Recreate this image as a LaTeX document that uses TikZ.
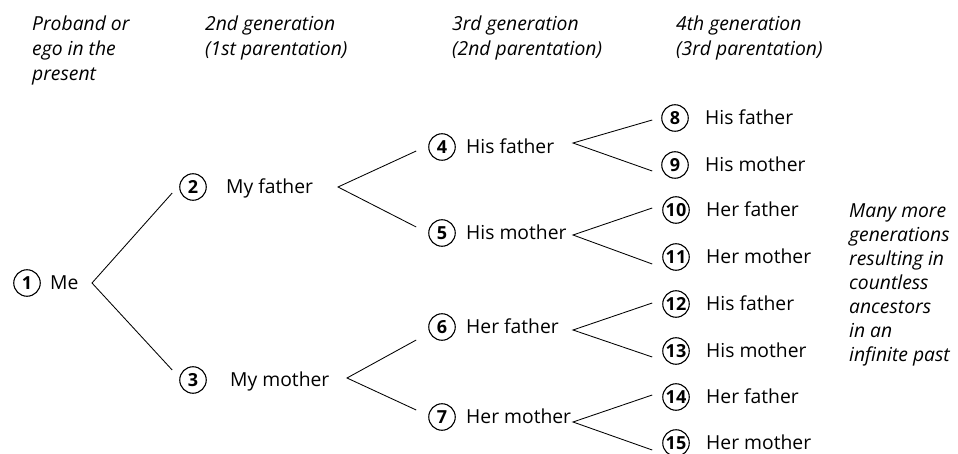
\documentclass[tikz,border=0pt]{standalone}
\usepackage{fontspec}
\setmainfont{Open Sans}
\begin{document}
\begin{tikzpicture}[x=1pt,y=-1pt,
  num/.style={circle,draw,line width=1.1pt,minimum size=26.5pt,inner sep=0pt,
    font=\fontsize{18}{18}\selectfont\bfseries},
  lbl/.style={anchor=base west,inner sep=0pt,font=\fontsize{19.3}{23}\selectfont},
  head/.style={anchor=north west,inner sep=0pt,align=left,
    font=\fontsize{19.3}{25}\selectfont\itshape},
  link/.style={line width=0.85pt}]
\useasboundingbox (0,0) rectangle (958,454);

% column headings
\node[head] (h1) at (32,15.4) {Proband or\\ego in the\\present};
\node[head] (h2) at (205,15.4) {2nd generation\\(1st parentation)};
\node[head] (h3) at (452,15.4) {3rd generation\\(2nd parentation)};
\node[head] (h4) at (676,15.4) {4th generation\\(3rd parentation)};
\node[head,font=\fontsize{19.3}{24}\selectfont\itshape] (more) at (849,203.2)
  {Many more\\generations\\resulting in\\countless\\ancestors\\in an\\infinite past};

% numbered persons
\node[num] (c1) at (27,283) {1};
\node[num] (c2) at (193,187) {2};
\node[num] (c3) at (193,380) {3};
\node[num] (c4) at (442,147) {4};
\node[num] (c5) at (442,233) {5};
\node[num] (c6) at (442,327) {6};
\node[num] (c7) at (442,417) {7};
\node[num] (c8) at (675,118) {8};
\node[num] (c9) at (675,165) {9};
\node[num] (c10) at (676,210) {10};
\node[num] (c11) at (676,257) {11};
\node[num] (c12) at (676,304) {12};
\node[num] (c13) at (676,351) {13};
\node[num] (c14) at (676,397) {14};
\node[num] (c15) at (676,443) {15};

% names
\node[lbl] (t1) at ([xshift=23pt,yshift=-6.9pt]c1.center) {Me};
\node[lbl] (t2) at ([xshift=33pt,yshift=-6.9pt]c2.center) {My father};
\node[lbl] (t3) at ([xshift=37pt,yshift=-6.9pt]c3.center) {My mother};
\foreach \i/\t in {4/His father,5/His mother,6/Her father,7/Her mother}
  \node[lbl] (t\i) at ([xshift=24pt,yshift=-6.9pt]c\i.center) {\t};
\foreach \i/\t in {8/His father,9/His mother,10/Her father,11/Her mother,
                   12/His father,13/His mother,14/Her father,15/Her mother}
  \node[lbl] (t\i) at ([xshift=30pt,yshift=-6.9pt]c\i.center) {\t};

% branching points
\coordinate (b1) at (92,283);
\coordinate (b2) at (338,187);
\coordinate (b3) at (347,378);
\coordinate (b4) at (573,143);
\coordinate (b5) at (573,235);
\coordinate (b6) at (573,330);
\coordinate (b7) at (573,422);

% connectors
\draw[link] ([xshift=-7pt,yshift=-6pt]c2.west) -- (b1) -- ([xshift=-7pt,yshift=10pt]c3.west);
\draw[link] ([xshift=-12pt,yshift=-4pt]c4.west) -- (b2) -- ([xshift=-12pt,yshift=6pt]c5.west);
\draw[link] ([xshift=-12pt,yshift=-13pt]c6.west) -- (b3) -- ([xshift=-12pt,yshift=7pt]c7.west);
\draw[link] ([xshift=-9pt,yshift=-2pt]c8.west) -- (b4) -- ([xshift=-9pt,yshift=-6pt]c9.west);
\draw[link] ([xshift=-10pt,yshift=2pt]c10.west) -- (b5) -- ([xshift=-10pt,yshift=-7pt]c11.west);
\draw[link] ([xshift=-10pt,yshift=1pt]c12.west) -- (b6) -- ([xshift=-10pt,yshift=-6pt]c13.west);
\draw[link] ([xshift=-10pt,yshift=2pt]c14.west) -- (b7) -- ([xshift=-10pt,yshift=-7pt]c15.west);
\end{tikzpicture}
\end{document}
